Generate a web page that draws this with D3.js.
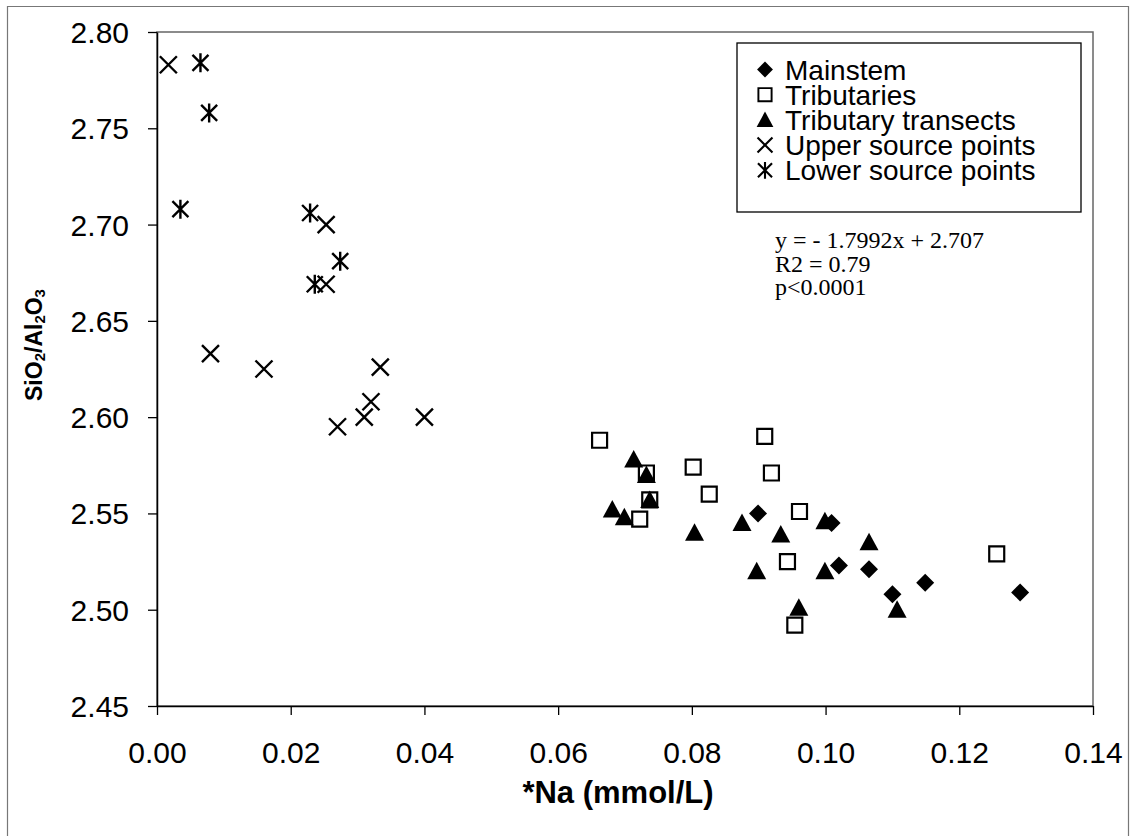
<!DOCTYPE html>
<html>
<head>
<meta charset="utf-8">
<script src="https://cdn.jsdelivr.net/npm/d3@7"></script>
<style>
  body { margin: 0; background: #fff; }
  svg { display: block; }
</style>
</head>
<body>
<svg width="1132" height="836"></svg>
<script>
// series values: [*Na, SiO2/Al2O3]
const mainstem = [[0.0899, 2.550], [0.1009, 2.545], [0.1020, 2.523], [0.1065, 2.521],
                  [0.1100, 2.508], [0.1149, 2.514], [0.1291, 2.509]];
const tributaries = [[0.0662, 2.588], [0.0909, 2.590], [0.0732, 2.571], [0.0802, 2.574],
                     [0.0919, 2.571], [0.0826, 2.560], [0.0737, 2.557], [0.0722, 2.547],
                     [0.0961, 2.551], [0.0943, 2.525], [0.0954, 2.492], [0.1256, 2.529]];
const transects = [[0.0713, 2.578], [0.0732, 2.570], [0.0737, 2.557], [0.0681, 2.552],
                   [0.0699, 2.548], [0.0804, 2.540], [0.0875, 2.545], [0.0933, 2.539],
                   [0.0897, 2.520], [0.0999, 2.546], [0.0999, 2.520], [0.0960, 2.501],
                   [0.1065, 2.535], [0.1107, 2.500]];
const upperSource = [[0.0017, 2.783], [0.0253, 2.700], [0.0253, 2.669], [0.0334, 2.626],
                     [0.0080, 2.633], [0.0160, 2.625], [0.0270, 2.595], [0.0310, 2.600],
                     [0.0320, 2.608], [0.0400, 2.600]];
const lowerSource = [[0.0065, 2.784], [0.0078, 2.758], [0.0035, 2.708], [0.0229, 2.706],
                     [0.0274, 2.681], [0.0236, 2.669]];

const xTicks = [0, 0.02, 0.04, 0.06, 0.08, 0.10, 0.12, 0.14];
const yTicks = [2.45, 2.50, 2.55, 2.60, 2.65, 2.70, 2.75, 2.80];
const legendNames = ["Mainstem", "Tributaries", "Tributary transects", "Upper source points", "Lower source points"];
const equationLines = ["y = - 1.7992x + 2.707", "R2 = 0.79", "p<0.0001"];

var svg = d3.select("svg"),
    plotLeft = 157, plotRight = 1093, plotTop = 32, plotBottom = 706;

var x = d3.scaleLinear().domain([0, 0.14]).range([plotLeft, plotRight]);
var y = d3.scaleLinear().domain([2.45, 2.80]).range([plotBottom, plotTop]);

// outer chart frame
svg.append("path")
    .attr("d", "M7.5,840 L7.5,6.5 L1128.5,6.5 L1128.5,840")
    .style("fill", "none")
    .style("stroke", "#777")
    .style("stroke-width", 1.2);

// plot area border
svg.append("rect")
    .attr("x", plotLeft).attr("y", plotTop)
    .attr("width", plotRight - plotLeft).attr("height", plotBottom - plotTop)
    .style("fill", "none")
    .style("stroke", "#666")
    .style("stroke-width", 1.5);

var font = "Arial, 'Liberation Sans', Helvetica, sans-serif";

var gx = svg.append("g")
    .attr("transform", "translate(0," + plotBottom + ")")
    .call(d3.axisBottom(x).tickValues(xTicks).tickFormat(d3.format(".2f")).tickSize(9).tickSizeOuter(0));
var gy = svg.append("g")
    .attr("transform", "translate(" + plotLeft + ",0)")
    .call(d3.axisLeft(y).tickValues(yTicks).tickFormat(d3.format(".2f")).tickSize(9).tickSizeOuter(0));

[gx, gy].forEach(function(g) {
  g.select(".domain").style("stroke", "#000").style("stroke-width", 1.5);
  g.selectAll(".tick line").style("stroke", "#000").style("stroke-width", 1.3);
  g.selectAll(".tick text")
      .style("font-family", font)
      .style("font-size", "30px")
      .style("fill", "#000");
});
gx.selectAll(".tick text").attr("y", 36).attr("dy", "0.71em");
gy.selectAll(".tick text").attr("x", -28).attr("dy", "0.35em");

// axis titles
svg.append("text")
    .attr("x", 618).attr("y", 803)
    .attr("text-anchor", "middle")
    .style("font-family", font).style("font-size", "31px").style("font-weight", "bold")
    .text("*Na (mmol/L)");

var yt = svg.append("text")
    .attr("transform", "translate(42,345) rotate(-90)")
    .attr("text-anchor", "middle")
    .style("font-family", font).style("font-size", "23px").style("font-weight", "bold");
[["SiO", 0], ["2", 1], ["/Al", 0], ["2", 1], ["O", 0], ["3", 1]].forEach(function(p) {
  yt.append("tspan")
      .attr("baseline-shift", p[1] ? "-20%" : null)
      .style("font-size", p[1] ? "15px" : null)
      .text(p[0]);
});

// marker shapes
var markers = {
  diamond: { path: "M0,-9L9,0L0,9L-9,0Z", fill: "#000", stroke: "none", sw: 0 },
  square: { path: "M-7.5,-7.5H7.5V7.5H-7.5Z", fill: "#fff", stroke: "#000", sw: 2.2 },
  triangle: { path: "M0,-9.5L9.5,8L-9.5,8Z", fill: "#000", stroke: "none", sw: 0 },
  cross: { path: "M-8.5,-8.5L8.5,8.5M-8.5,8.5L8.5,-8.5", fill: "none", stroke: "#000", sw: 2.4 },
  star: { path: "M-8,-8L8,8M-8,8L8,-8M0,-9.5L0,9.5", fill: "none", stroke: "#000", sw: 2.4 }
};

var series = [
  { data: mainstem, marker: "diamond" },
  { data: tributaries, marker: "square" },
  { data: transects, marker: "triangle" },
  { data: upperSource, marker: "cross" },
  { data: lowerSource, marker: "star" }
];

var plot = svg.append("g");
series.forEach(function(s) {
  var m = markers[s.marker];
  plot.selectAll(null)
      .data(s.data)
      .enter().append("path")
      .attr("transform", function(d) { return "translate(" + x(d[0]) + "," + y(d[1]) + ")"; })
      .attr("d", m.path)
      .style("fill", m.fill)
      .style("stroke", m.stroke)
      .style("stroke-width", m.sw);
});

// legend
var lg = svg.append("g");
lg.append("rect")
    .attr("x", 737).attr("y", 43).attr("width", 344).attr("height", 169)
    .style("fill", "#fff").style("stroke", "#000").style("stroke-width", 1.3);

series.forEach(function(s, i) {
  var m = markers[s.marker];
  var cy = 69.5 + i * 25.2;
  lg.append("path")
      .attr("transform", "translate(765," + cy + ") scale(0.88)")
      .attr("d", m.path)
      .style("fill", m.fill)
      .style("stroke", m.stroke)
      .style("stroke-width", m.sw);
  lg.append("text")
      .attr("x", 785).attr("y", cy + 10)
      .style("font-family", font).style("font-size", "28px")
      .text(legendNames[i]);
});

// regression note
equationLines.forEach(function(t, i) {
  svg.append("text")
      .attr("x", 775).attr("y", 248 + i * 23.5)
      .style("font-family", "'Times New Roman', 'Liberation Serif', serif")
      .style("font-size", "24px")
      .text(t);
});
</script>
</body>
</html>
